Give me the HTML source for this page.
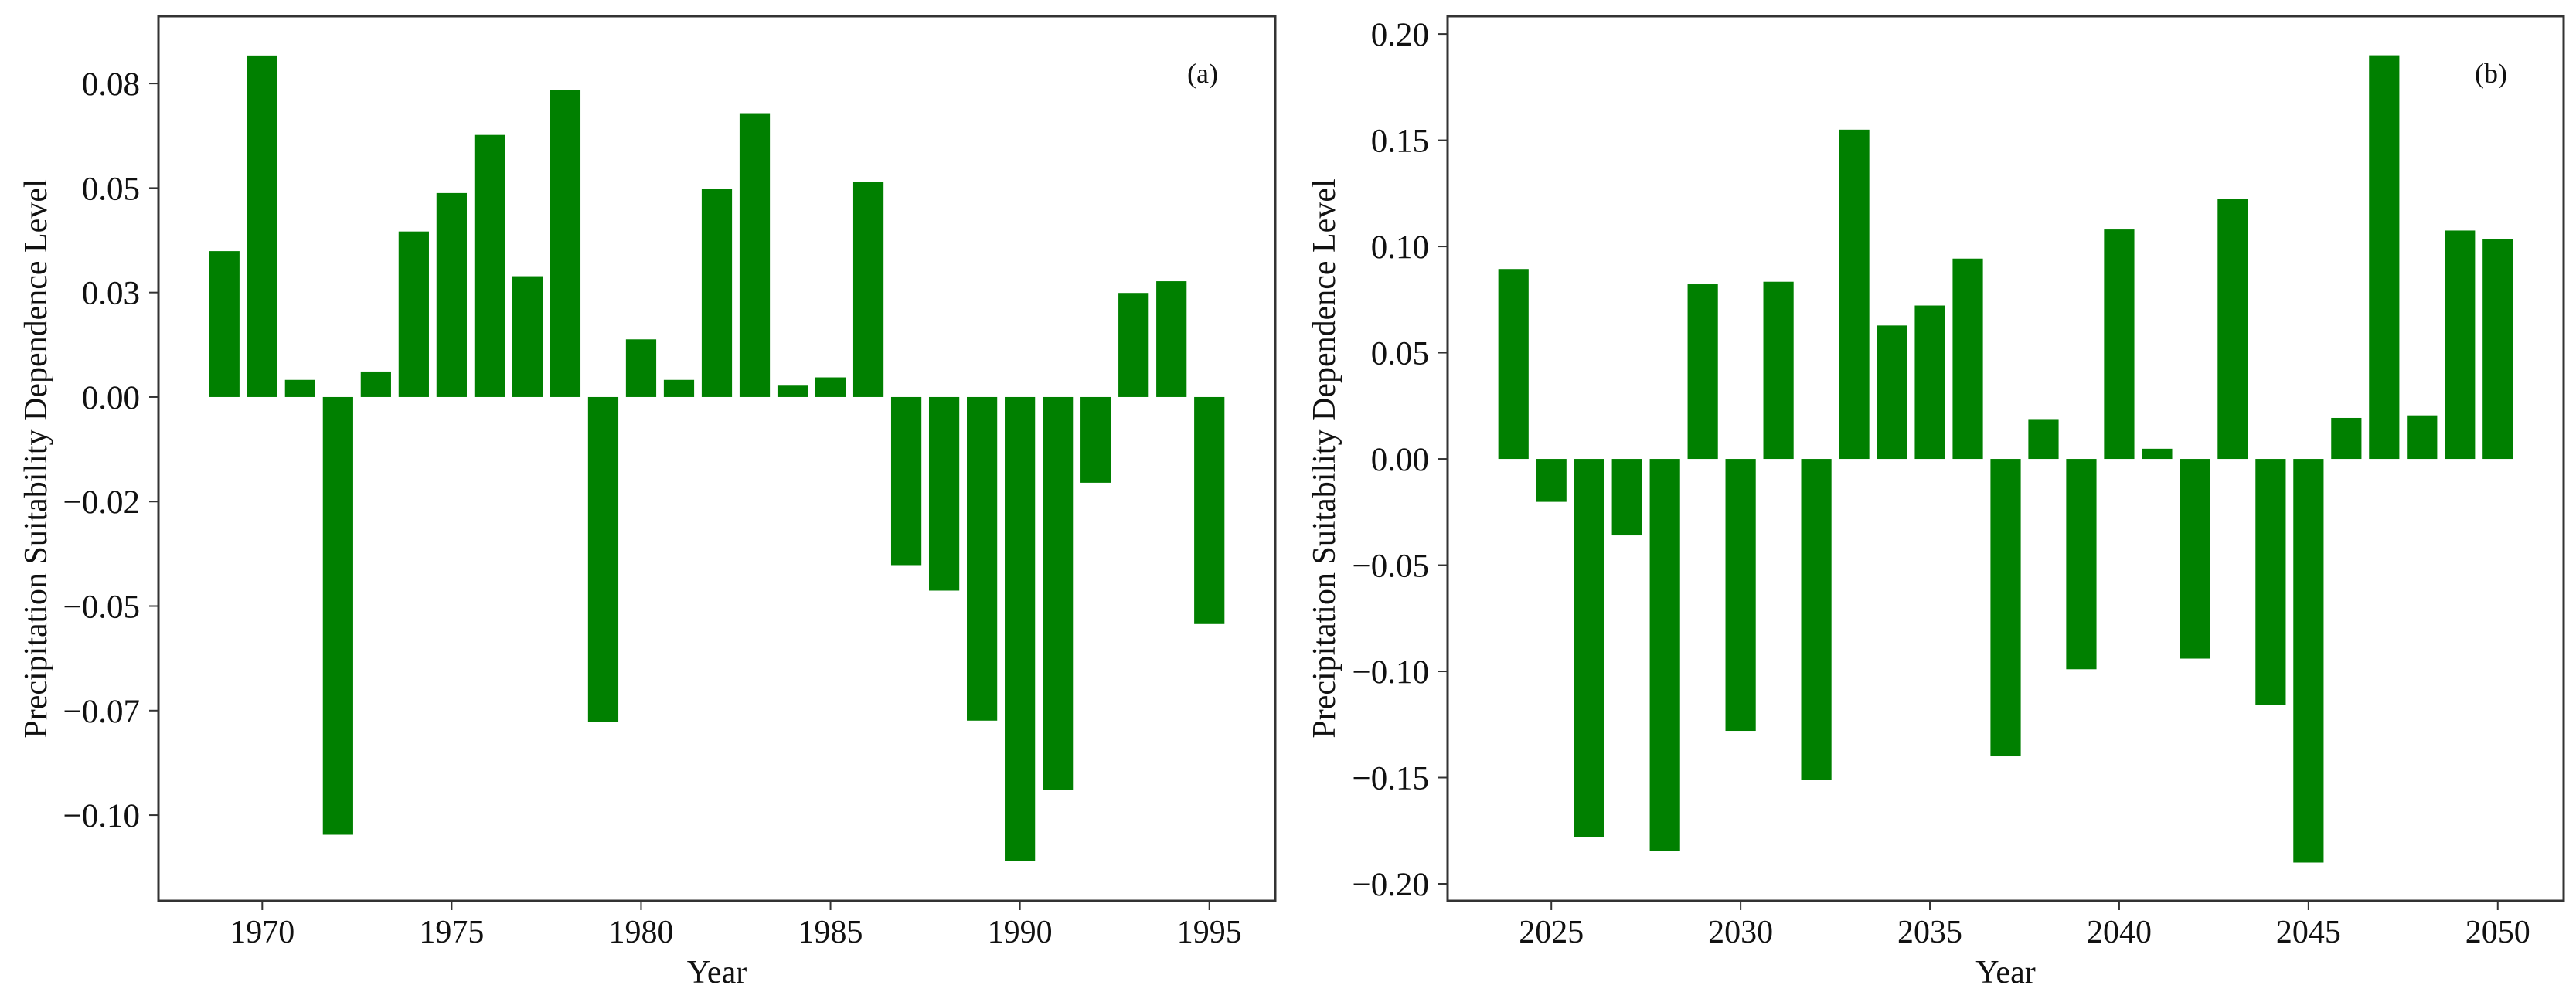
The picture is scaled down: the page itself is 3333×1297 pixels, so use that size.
<!DOCTYPE html>
<html><head><meta charset="utf-8"><style>
html,body{margin:0;padding:0;background:#fff;}
svg{display:block;font-family:"Liberation Serif",serif;}
</style></head><body>
<svg id="c" width="3333" height="1297" viewBox="0 0 3333 1297"></svg>
<script>
const yearsA = [1969,1970,1971,1972,1973,1974,1975,1976,1977,1978,1979,1980,1981,1982,1983,1984,1985,1986,1987,1988,1989,1990,1991,1992,1993,1994,1995];
const valuesA = [0.0349,0.0817,0.0041,-0.1047,0.0061,0.0396,0.0488,0.0627,0.0289,0.0734,-0.0778,0.0138,0.0041,0.0498,0.0679,0.0029,0.0047,0.0514,-0.0402,-0.0463,-0.0774,-0.1109,-0.0939,-0.0205,0.0249,0.0277,-0.0543];
const yTicksA = [0.075,0.05,0.025,0,-0.025,-0.05,-0.075,-0.1];
const yTickLabelsA = ["0.08","0.05","0.03","0.00","\u22120.02","\u22120.05","\u22120.07","\u22120.10"];
const xTicksA = [1970,1975,1980,1985,1990,1995];

const yearsB = [2024,2025,2026,2027,2028,2029,2030,2031,2032,2033,2034,2035,2036,2037,2038,2039,2040,2041,2042,2043,2044,2045,2046,2047,2048,2049,2050];
const valuesB = [0.0894,-0.0202,-0.178,-0.036,-0.1846,0.0822,-0.128,0.0834,-0.151,0.155,0.0628,0.0722,0.0943,-0.140,0.0184,-0.099,0.108,0.0048,-0.094,0.1224,-0.1157,-0.19,0.0193,0.190,0.0205,0.1075,0.1036];
const yTicksB = [0.2,0.15,0.1,0.05,0,-0.05,-0.1,-0.15,-0.2];
const yTickLabelsB = ["0.20","0.15","0.10","0.05","0.00","\u22120.05","\u22120.10","\u22120.15","\u22120.20"];
const xTicksB = [2025,2030,2035,2040,2045,2050];

const NS="http://www.w3.org/2000/svg";
const svg=document.getElementById('c');
function mk(tag,attrs,parent){const e=document.createElementNS(NS,tag);for(const k in attrs)e.setAttribute(k,attrs[k]);(parent||svg).appendChild(e);return e;}

function panel(cfg){
  const g=mk('g',{});
  
  
  const {L,R,T,B}=cfg;
  const yr=cfg.years, vals=cfg.values;
  const xmin=yr[0]-0.4, xmax=yr[yr.length-1]+0.4, pad=(xmax-xmin)*0.05;
  const x0=xmin-pad, x1=xmax+pad;
  const vmin=Math.min(...vals,0)-0.0, vmax=Math.max(...vals,0);
  const ypad=(vmax-vmin)*0.05;
  const y0=cfg.ylo!==undefined?cfg.ylo:vmin-ypad, y1=cfg.yhi!==undefined?cfg.yhi:vmax+ypad;
  const sx=v=>L+(v-x0)/(x1-x0)*(R-L);
  const sy=v=>T+(y1-v)/(y1-y0)*(B-T);
  yr.forEach((y,i)=>{
    const a=sy(Math.max(vals[i],0)), b=sy(Math.min(vals[i],0));
    const r=mk('rect',{x:sx(y-0.4),y:a,width:sx(y+0.4)-sx(y-0.4),height:Math.max(b-a,1),fill:'#008000'},g);
    
    
  });
  const f=mk('rect',{x:L,y:T,width:R-L,height:B-T,fill:'none',stroke:'#333',"stroke-width":3},g);
  
  
  cfg.yTicks.forEach((t,i)=>{
    const y=sy(t);
    mk('line',{x1:L-12,x2:L,y1:y,y2:y,stroke:'#333','stroke-width':2},g);
    const tx=mk('text',{x:L-24,y:y+15,'font-size':43,'text-anchor':'end',fill:'#111'},g);
    tx.textContent=cfg.yLabels[i];
    
    
  });
  cfg.xTicks.forEach(t=>{
    const x=sx(t);
    mk('line',{x1:x,x2:x,y1:B,y2:B+12,stroke:'#333','stroke-width':2},g);
    const tx=mk('text',{x:x,y:1220,'font-size':42,'text-anchor':'middle',fill:'#111'},g);
    tx.textContent=t;
    
    
  });
  const xl=mk('text',{x:(L+R)/2,y:1272,'font-size':42,'text-anchor':'middle',fill:'#111'},g);
  xl.textContent='Year';
  
  
  const cy=(T+B)/2;
  const yl=mk('text',{x:cfg.ylx,y:cy,'font-size':42,'text-anchor':'middle',fill:'#111',transform:`rotate(-90 ${cfg.ylx} ${cy})`},g);
  yl.textContent='Precipitation Suitability Dependence Level';
  
  
  const pl=mk('text',{x:cfg.px,y:107,'font-size':36,'text-anchor':'middle',fill:'#111'},g);
  pl.textContent=cfg.plabel;
  
  
}
panel({name:'panel-a',L:205,R:1650,T:21,B:1166,years:yearsA,values:valuesA,yTicks:yTicksA,yLabels:yTickLabelsA,xTicks:xTicksA,ylx:60,px:1556,plabel:'(a)',ylo:-0.1205,yhi:0.0911});
panel({name:'panel-b',L:1873,R:3317,T:21,B:1166,years:yearsB,values:valuesB,yTicks:yTicksB,yLabels:yTickLabelsB,xTicks:xTicksB,ylx:1727,px:3223,plabel:'(b)',ylo:-0.208,yhi:0.2084});
</script>
</body></html>
